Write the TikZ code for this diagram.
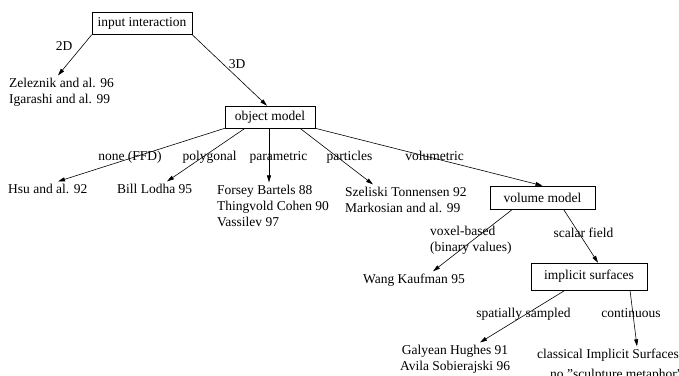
\documentclass[tikz,border=0pt]{standalone}
\usepackage{fontspec}
\setmainfont{Liberation Serif}
\usetikzlibrary{arrows.meta}

\begin{document}
\begin{tikzpicture}[x=1pt, y=-1pt,
        every node/.style = {font=\fontsize{13.5}{16}\selectfont},
        box/.style = {draw, line width=.6pt, inner sep=0pt, minimum height=22pt},
        leaf/.style = {align=left, inner sep=2pt, anchor=base west},
        lbl/.style = {inner sep=0pt, anchor=base},
        arr/.style = {line width=.6pt, -{Triangle[length=7pt,width=4pt]}}]
        \useasboundingbox (0,0) rectangle (679,375);

        % the boxes
        \node[box, minimum width=100pt] (inp) at (142,23.5) {input interaction};
        \node[box, minimum width=90pt] (obj) at (270,117) {object model};
        \node[box, minimum width=105pt, minimum height=23pt] (vol) at (542.5,197.5) {volume model};
        \node[box, minimum width=116pt, minimum height=27pt] (impl) at (589,276.5) {implicit surfaces};

        % the works (base = last line)
        \node[leaf] (zel) at (7,103) {Zeleznik and al. 96\\Igarashi and al. 99};
        \node[leaf] (hsu) at (6,193) {Hsu and al. 92};
        \node[leaf] (bill) at (115,193) {Bill Lodha 95};
        \node[leaf] (fors) at (215,226) {Forsey Bartels 88\\Thingvold Cohen 90\\Vassilev 97};
        \node[leaf] (szel) at (343,212) {Szeliski Tonnensen 92\\Markosian and al. 99};
        \node[leaf] (wang) at (361,283) {Wang Kaufman 95};
        \node[leaf, align=center, anchor=base] (galy) at (455,370) {Galyean Hughes 91\\Avila Sobierajski 96};
        \node[leaf] (clas) at (535,358) {classical Implicit Surfaces};
        \node[leaf] (clasb) at (548,378) {no "sculpture metaphor"};

        % branch labels
        \node[lbl] (l2d) at (64,50) {2D};
        \node[lbl] (l3d) at (237,68) {3D};
        \node[lbl] (lffd) at (130,160) {none (FFD)};
        \node[lbl] (lpoly) at (209.5,160) {polygonal};
        \node[lbl] (lpar) at (278.5,160) {parametric};
        \node[lbl] (lpart) at (349.5,160) {particles};
        \node[lbl] (lvolm) at (434.5,160) {volumetric};
        \node[lbl, anchor=base west, align=left] (lvox) at (430,251) {voxel-based\\(binary values)};
        \node[lbl] (lscal) at (583.5,237) {scalar field};
        \node[lbl] (lspat) at (523.5,317) {spatially sampled};
        \node[lbl] (lcont) at (631,317) {continuous};

        % the arrows
        \draw[arr] (inp.south west) -- ([xshift=51pt]zel.north west);
        \draw[arr] (inp.south east) -- ([xshift=-3pt]obj.north);
        \draw[arr] (obj.south west) -- ([xshift=52pt]hsu.north west);
        \draw[arr] ([xshift=-25pt]obj.south) -- ([xshift=52pt]bill.north west);
        \draw[arr] ([xshift=-1pt]obj.south) -- ([xshift=54pt]fors.north west);
        \draw[arr] ([xshift=30pt]obj.south) -- ([xshift=30pt]szel.north west);
        \draw[arr] (obj.south east) -- (vol.north);
        \draw[arr] ([xshift=-30pt]vol.south) -- ([xshift=72pt]wang.north west);
        \draw[arr] ([xshift=21pt]vol.south) -- ([xshift=9pt]impl.north);
        \draw[arr] ([xshift=-24pt]impl.south) -- ([xshift=25pt]galy.north);
        \draw[arr] ([xshift=41pt]impl.south) -- ([xshift=102pt]clas.north west);
\end{tikzpicture}
\end{document}
